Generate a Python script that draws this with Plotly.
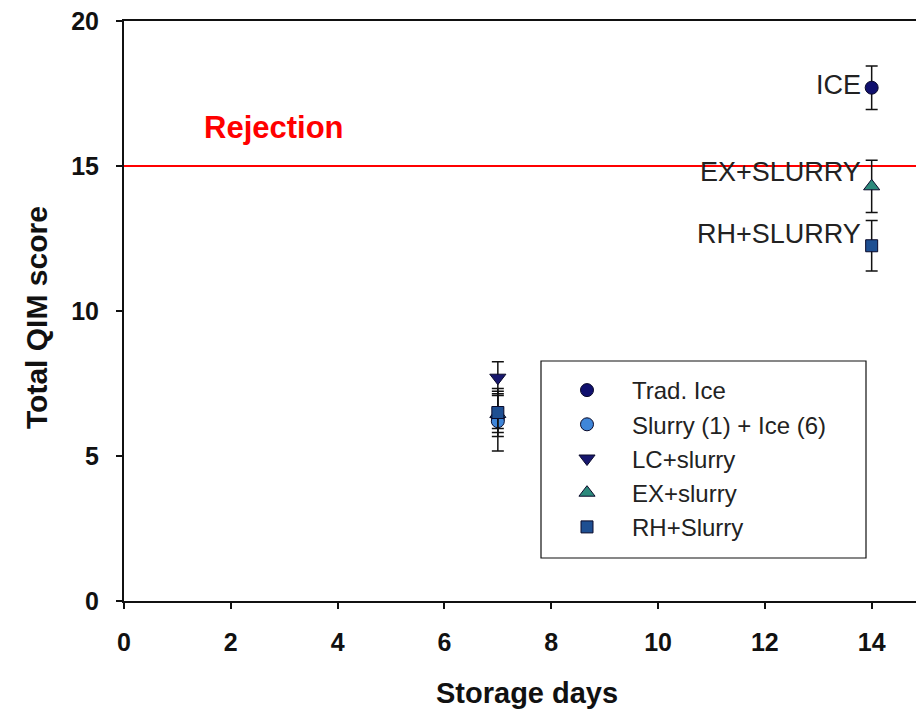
import plotly.graph_objects as go

# Storage time (days) for each sampling point
days = [7, 14]

# Total QIM score (mean) and error (±) per treatment; None = not sampled
series_names = ["Trad. Ice", "Slurry (1) + Ice (6)", "LC+slurry", "EX+slurry", "RH+Slurry"]
trad_ice = [6.3, 17.7]
trad_ice_err = [0.35, 0.75]
slurry_ice = [6.2, None]
slurry_ice_err = [1.03, 0]
lc_slurry = [7.7, None]
lc_slurry_err = [0.55, 0]
ex_slurry = [6.45, 14.3]
ex_slurry_err = [0.64, 0.9]
rh_slurry = [6.5, 12.25]
rh_slurry_err = [0.83, 0.87]

rejection_limit = 15

# Point labels at day 14
point_labels = ["ICE", "EX+SLURRY", "RH+SLURRY"]
point_label_y = [17.8, 14.78, 12.64]

x_ticks = [0, 2, 4, 6, 8, 10, 12, 14]
y_ticks = [0, 5, 10, 15, 20]

FONT = "Arial, Liberation Sans, sans-serif"

styles = [
    dict(symbol="circle", color="#10106e", size=13),
    dict(symbol="circle", color="#3f86d9", size=13),
    dict(symbol="triangle-down", color="#17176e", size=14),
    dict(symbol="triangle-up", color="#2c8a7c", size=14),
    dict(symbol="square", color="#1e4f92", size=12),
]
values = [trad_ice, slurry_ice, lc_slurry, ex_slurry, rh_slurry]
errors = [trad_ice_err, slurry_ice_err, lc_slurry_err, ex_slurry_err, rh_slurry_err]

# plot-area edges in pixels
L, R, T, B = 124, 916, 21, 601
W, H = R - L, B - T


def px(x):
    return (x - L) / W


def py(y):
    return (B - y) / H


fig = go.Figure()

# red rejection line across the plot
fig.add_trace(go.Scatter(
    x=[0, 15], y=[rejection_limit, rejection_limit], mode="lines",
    line=dict(color="#ff0000", width=2), showlegend=False, hoverinfo="skip"))

for name, vals, errs, st in zip(series_names, values, errors, styles):
    fig.add_trace(go.Scatter(
        x=days, y=vals, mode="markers", name=name,
        error_y=dict(type="data", array=errs, visible=True, color="#111111",
                     thickness=1.5, width=6),
        marker=dict(symbol=st["symbol"], color=st["color"], size=st["size"],
                    line=dict(color="#0a0a2a", width=1)),
    ))

for t, yy in zip(point_labels, point_label_y):
    fig.add_annotation(x=14, y=yy, xref="x", yref="y", text=t, showarrow=False,
                       xanchor="right", yanchor="middle", xshift=-9,
                       font=dict(family=FONT, size=27, color="#222222"))

fig.add_annotation(x=px(274), y=py(127), xref="paper", yref="paper",
                   text="<b>Rejection</b>", showarrow=False,
                   xanchor="center", yanchor="middle",
                   font=dict(family=FONT, size=31, color="#ff0000"))

# axis titles
fig.add_annotation(x=px(527), y=py(693), xref="paper", yref="paper",
                   text="<b>Storage days</b>", showarrow=False,
                   xanchor="center", yanchor="middle",
                   font=dict(family=FONT, size=29, color="#111111"))
fig.add_annotation(x=px(36), y=py(318), xref="paper", yref="paper",
                   text="<b>Total QIM score</b>", showarrow=False, textangle=-90,
                   xanchor="center", yanchor="middle",
                   font=dict(family=FONT, size=30, color="#111111"))

# legend frame
fig.add_shape(type="rect", xref="paper", yref="paper",
              x0=px(541), x1=px(866), y0=py(558), y1=py(361),
              line=dict(color="#111111", width=1.2), fillcolor="white", layer="below")

fig.update_layout(
    width=916, height=710,
    margin=dict(l=L, r=916 - R, t=T, b=710 - B),
    paper_bgcolor="white", plot_bgcolor="white",
    font=dict(family=FONT, color="#111111"),
    showlegend=True,
    legend=dict(x=px(542), y=py(368), xanchor="left", yanchor="top",
                bgcolor="rgba(0,0,0,0)", borderwidth=0, itemwidth=80,
                font=dict(family=FONT, size=24, color="#222222")),
    xaxis=dict(range=[0, 14.83], tickvals=x_ticks, showgrid=False, zeroline=False,
               showline=True, linecolor="#111111", linewidth=2, mirror=True,
               ticks="outside", ticklen=6, tickwidth=1.5, tickcolor="#111111",
               ticklabelstandoff=12,
               tickfont=dict(family=FONT, size=25, color="#111111", weight="bold")),
    yaxis=dict(range=[0, 20], tickvals=y_ticks, showgrid=False, zeroline=False,
               showline=True, linecolor="#111111", linewidth=2, mirror=False,
               ticks="outside", ticklen=6, tickwidth=1.5, tickcolor="#111111",
               ticklabelstandoff=12,
               tickfont=dict(family=FONT, size=25, color="#111111", weight="bold")),
)

fig.write_html("out.html")
